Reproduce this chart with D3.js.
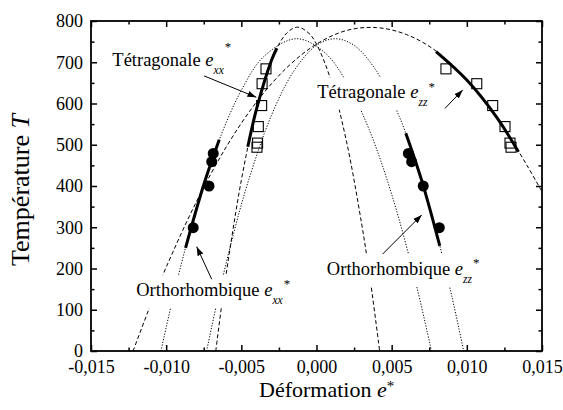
<!DOCTYPE html>
<html><head><meta charset="utf-8">
<script src="https://cdn.jsdelivr.net/npm/d3@7"></script>
<style>
body{margin:0;background:#fff}
svg{display:block}
text{font-family:"Liberation Serif","Times New Roman",serif;fill:#000}
</style>
</head><body><svg id="c" width="563" height="410"></svg>
<script>
// ---- tick values ----
const xMajor = [-0.015, -0.010, -0.005, 0, 0.005, 0.010, 0.015];
const xMinor = [-0.0125, -0.0075, -0.0025, 0.0025, 0.0075, 0.0125];
const yMajor = [0, 100, 200, 300, 400, 500, 600, 700, 800];
const yMinor = [50, 150, 250, 350, 450, 550, 650, 750];

// ---- measured data ----
const tetraT   = [684, 648, 595, 544, 504, 494];
const tetraExx = [-0.00336, -0.00362, -0.00365, -0.00387, -0.00392, -0.00396];
const tetraEzz = [0.00861, 0.01066, 0.01172, 0.01254, 0.01287, 0.01294];

const orthoT   = [479, 459, 400, 299];
const orthoExx = [-0.00687, -0.00697, -0.00715, -0.00820];
const orthoEzz = [0.00611, 0.00633, 0.00710, 0.00817];

// ---- model curves (dashed: tetragonal, dotted: orthorhombic) ----
const curveTetraWide = [[-0.0122,0],[-0.011,115],[-0.010,203],[-0.008,361],[-0.006,495],[-0.004,603],[-0.002,686],[0,744],[0.002,777],[0.004,784],[0.006,767],[0.008,726],[0.010,657],[0.012,566],[0.014,450],[0.015,386]];
const curveTetraNarrow = [[-0.0067,0],[-0.0063,113],[-0.006,189],[-0.005,414],[-0.004,585],[-0.003,704],[-0.002,770],[-0.00125,785],[-0.0005,770],[0,744],[0.001,652],[0.002,507],[0.003,309],[0.0036,166],[0.0042,0]];
const curveOrthoXX = [[-0.01035,0],[-0.0095,136],[-0.0085,279],[-0.0075,403],[-0.0065,509],[-0.005,632],[-0.0035,714],[-0.00135,757],[0.0005,725],[0.002,652],[0.0035,537],[0.005,380],[0.0065,181],[0.00765,0]];
const curveOrthoZZ = [[-0.00731,0],[-0.0065,137],[-0.0055,287],[-0.0045,416],[-0.003,571],[-0.0015,679],[0,741],[0.00124,757],[0.0025,741],[0.004,678],[0.0055,569],[0.007,413],[0.008,284],[0.009,133],[0.00979,0]];

// ---- fitted ranges (thick lines) ----
const fitTetraXX = [[-0.00457,495],[-0.004,585],[-0.003,704],[-0.00264,734]];
const fitTetraZZ = [[0.00795,726],[0.010,657],[0.012,566],[0.01343,483]];
const fitOrthoXX = [[-0.00871,250],[-0.0075,403],[-0.00647,512]];
const fitOrthoZZ = [[0.00594,528],[0.007,413],[0.0082,255]];

// ---- annotations ----
const labels = [
  {name:"Tétragonale ", sub:"xx", at:[-0.01358,690], supDy:-23, from:[-0.00748,667], to:[-0.00400,615]},
  {name:"Tétragonale ", sub:"zz", at:[0.00005,614], supDy:-15, from:[0.00854,588], to:[0.00973,633]},
  {name:"Orthorhombique ", sub:"xx", at:[-0.01199,133], supDy:-16, from:[-0.00697,174], to:[-0.00797,253]},
  {name:"Orthorhombique ", sub:"zz", at:[0.00069,185], supDy:-16, from:[0.0044,235], to:[0.0070,330]}
];

const svg = d3.select("#c");
const x = d3.scaleLinear().domain([-0.015, 0.015]).range([91, 542]);
const y = d3.scaleLinear().domain([0, 800]).range([351, 21]);

const fmtX = v => d3.format(".3f")(v).replace(".", ",").replace("\u2212", "-");
const line = d3.line().x(d => x(d[0])).y(d => y(d[1])).curve(d3.curveCatmullRom.alpha(0.5));

svg.append("defs").append("clipPath").attr("id","clip")
  .append("rect").attr("x",91).attr("y",21).attr("width",451).attr("height",330);

const gCurves = svg.append("g").attr("clip-path","url(#clip)");
[[curveTetraWide,"4,2.5"],[curveTetraNarrow,"4,2.5"],[curveOrthoXX,"1.2,1.6"],[curveOrthoZZ,"1.2,1.6"]].forEach(([c,dash]) => {
  gCurves.append("path").attr("d", line(c)).attr("fill","none").attr("stroke","#000")
    .attr("stroke-width",1).attr("stroke-dasharray",dash);
});

// labels with white background
const gLab = svg.append("g");
labels.forEach(l => {
  const g = gLab.append("g");
  const t = g.append("text").attr("x", x(l.at[0])).attr("y", y(l.at[1])).attr("font-size", 18.5);
  t.append("tspan").text(l.name);
  t.append("tspan").attr("font-style","italic").text("e");
  t.append("tspan").attr("font-style","italic").attr("font-size",11.5).attr("dy",8).text(l.sub);
  t.append("tspan").attr("font-size",13).attr("dy",l.supDy).attr("dx",1).text("*");
  const bb = t.node().getBBox();
  g.insert("rect","text").attr("x",bb.x-3).attr("y",bb.y-1).attr("width",bb.width+6).attr("height",bb.height+3).attr("fill","#fff");
});

// thick fit lines
[fitTetraXX, fitTetraZZ, fitOrthoXX, fitOrthoZZ].forEach(c => {
  svg.append("path").attr("d", line(c)).attr("fill","none").attr("stroke","#000").attr("stroke-width",3);
});

// markers
const sq = 10;
svg.append("g").selectAll("rect").data(tetraT.map((t,i)=>[tetraExx[i],t]).concat(tetraT.map((t,i)=>[tetraEzz[i],t])))
  .join("rect").attr("x",d=>x(d[0])-sq/2).attr("y",d=>y(d[1])-sq/2).attr("width",sq).attr("height",sq)
  .attr("fill","none").attr("stroke","#000").attr("stroke-width",1.1);
svg.append("g").selectAll("circle").data(orthoT.map((t,i)=>[orthoExx[i],t]).concat(orthoT.map((t,i)=>[orthoEzz[i],t])))
  .join("circle").attr("cx",d=>x(d[0])).attr("cy",d=>y(d[1])).attr("r",5.5).attr("fill","#000");

// arrows
svg.append("defs").append("marker").attr("id","ah").attr("viewBox","0 0 10 10").attr("refX",10).attr("refY",5)
  .attr("markerWidth",9).attr("markerHeight",9).attr("markerUnits","userSpaceOnUse").attr("orient","auto")
  .append("path").attr("d","M0,1.5 L10,5 L0,8.5 Z").attr("fill","#000");
labels.forEach(l => {
  svg.append("line").attr("x1",x(l.from[0])).attr("y1",y(l.from[1])).attr("x2",x(l.to[0])).attr("y2",y(l.to[1]))
    .attr("stroke","#000").attr("stroke-width",1).attr("marker-end","url(#ah)");
});

// axes
function styleAxis(g){ g.select(".domain").remove(); g.selectAll("line").attr("stroke","#000").attr("stroke-width",1.5); g.selectAll("text").attr("font-family",null).attr("font-size",18).attr("fill","#000"); }
svg.append("g").attr("transform","translate(0,351)").call(d3.axisBottom(x).tickValues(xMajor).tickSizeInner(-6).tickSizeOuter(0).tickPadding(9.5).tickFormat(fmtX)).call(styleAxis);
svg.append("g").attr("transform","translate(0,351)").call(d3.axisBottom(x).tickValues(xMinor).tickSizeInner(-3.5).tickSizeOuter(0).tickFormat("")).call(styleAxis);
svg.append("g").attr("transform","translate(0,21)").call(d3.axisTop(x).tickValues(xMajor).tickSizeInner(-6).tickSizeOuter(0).tickFormat("")).call(styleAxis);
svg.append("g").attr("transform","translate(0,21)").call(d3.axisTop(x).tickValues(xMinor).tickSizeInner(-3.5).tickSizeOuter(0).tickFormat("")).call(styleAxis);
svg.append("g").attr("transform","translate(91,0)").call(d3.axisLeft(y).tickValues(yMajor).tickSizeInner(-6).tickSizeOuter(0).tickPadding(8).tickFormat(d3.format("d"))).call(styleAxis);
svg.append("g").attr("transform","translate(91,0)").call(d3.axisLeft(y).tickValues(yMinor).tickSizeInner(-3.5).tickSizeOuter(0).tickFormat("")).call(styleAxis);
svg.append("g").attr("transform","translate(542,0)").call(d3.axisRight(y).tickValues(yMajor).tickSizeInner(-6).tickSizeOuter(0).tickFormat("")).call(styleAxis);
svg.append("g").attr("transform","translate(542,0)").call(d3.axisRight(y).tickValues(yMinor).tickSizeInner(-3.5).tickSizeOuter(0).tickFormat("")).call(styleAxis);

svg.append("rect").attr("x",91).attr("y",21).attr("width",451).attr("height",330).attr("fill","none").attr("stroke","#000").attr("stroke-width",1.8);

// axis titles
const xt = svg.append("text").attr("x",259).attr("y",397).attr("font-size",22);
xt.append("tspan").text("Déformation ");
xt.append("tspan").attr("font-style","italic").text("e");
xt.append("tspan").attr("font-size",15).attr("dy",-6).text("*");

const yt = svg.append("text").attr("transform","translate(29,190) rotate(-90)").attr("text-anchor","middle").attr("font-size",26);
yt.append("tspan").text("Température ");
yt.append("tspan").attr("font-style","italic").text("T");
</script>
</body></html>
